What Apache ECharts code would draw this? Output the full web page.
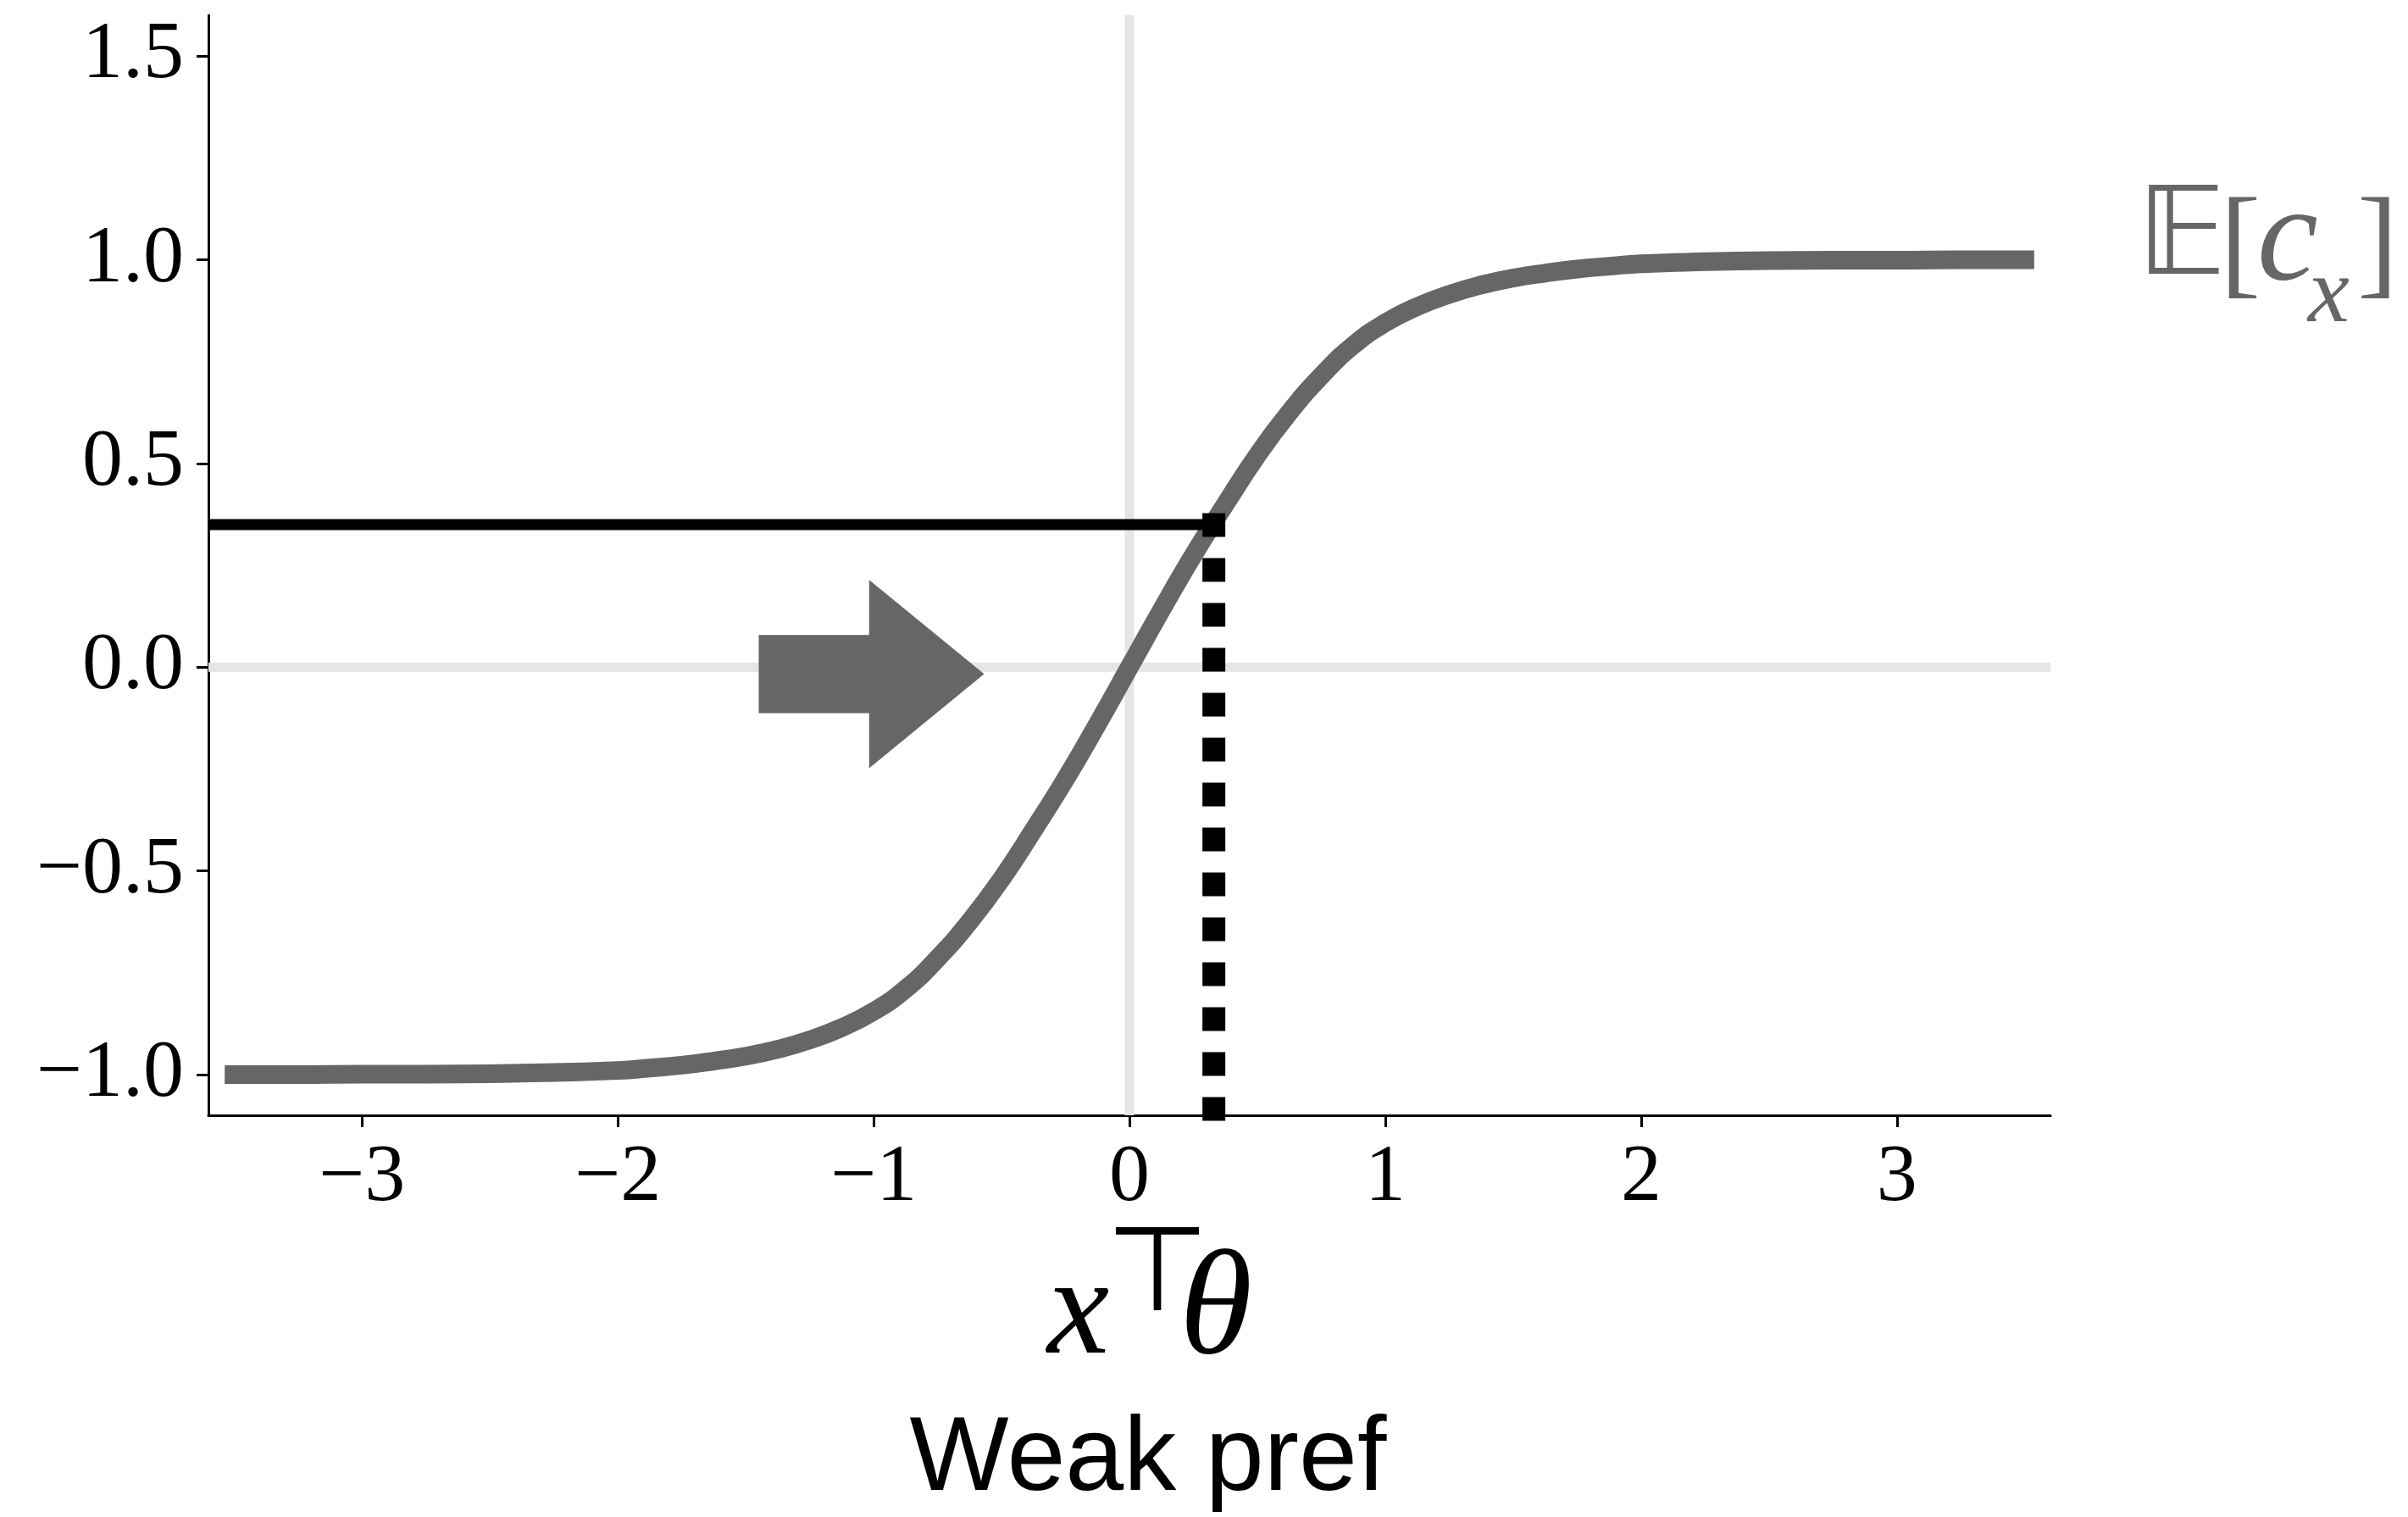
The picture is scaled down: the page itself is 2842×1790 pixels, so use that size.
<!DOCTYPE html>
<html>
<head>
<meta charset="utf-8">
<script src="https://cdn.jsdelivr.net/npm/echarts@6/dist/echarts.min.js"></script>
<style>
  html, body { margin: 0; padding: 0; background: #ffffff; }
  #chart { width: 2842px; height: 1790px; }
</style>
</head>
<body>
<div id="chart"></div>
<script>
// Expected choice E[c_x] as a function of x^T theta
const curveX = [-3.5, -3.25, -3.0, -2.75, -2.5, -2.25, -2.0, -1.875, -1.75, -1.625, -1.5, -1.375, -1.25, -1.125,
                -1.0, -0.875, -0.75, -0.625, -0.5, -0.375, -0.25, -0.125, 0,
                0.125, 0.25, 0.375, 0.5, 0.625, 0.75, 0.875, 1.0, 1.125, 1.25, 1.375, 1.5, 1.625, 1.75, 1.875,
                2.0, 2.25, 2.5, 2.75, 3.0, 3.25, 3.5];
const curveY = [-1.0, -1.0, -0.999, -0.999, -0.998, -0.995, -0.99, -0.984, -0.977, -0.967, -0.955, -0.938, -0.915, -0.885,
                -0.845, -0.79, -0.715, -0.625, -0.52, -0.4, -0.275, -0.14, 0,
                0.14, 0.275, 0.4, 0.52, 0.625, 0.715, 0.79, 0.845, 0.885, 0.915, 0.938, 0.955, 0.967, 0.977, 0.984,
                0.99, 0.995, 0.998, 0.999, 0.999, 1.0, 1.0];

// Marked operating point (projection lines)
const markX = 0.33;
const markY = 0.35;

// Axis extents and ticks
const xRange = [-3.6, 3.6];
const yRange = [-1.1, 1.6];
const xTicks = [-3, -2, -1, 0, 1, 2, 3];
const xTickLabels = ['\u22123', '\u22122', '\u22121', '0', '1', '2', '3'];
const yTicks = [-1.0, -0.5, 0.0, 0.5, 1.0, 1.5];
const yTickLabels = ['\u22121.0', '\u22120.5', '0.0', '0.5', '1.0', '1.5'];

// Block arrow outline (data coordinates)
const arrowX = [-1.449, -1.0175, -1.0175, -0.568, -1.0175, -1.0175, -1.449];
const arrowY = [0.079, 0.079, 0.214, -0.017, -0.248, -0.113, -0.113];

const GRAY = '#666666';
const LIGHT = '#e5e5e5';
const SERIF = '"Liberation Serif", "DejaVu Serif", serif';
const SANS = '"Liberation Sans", Arial, sans-serif';

const curveData = curveX.map((x, i) => [x, curveY[i]]);
const tickLabel = (ticks, labels) => (v) => {
  const i = ticks.findIndex(t => Math.abs(t - v) < 1e-9);
  return i >= 0 ? labels[i] : '';
};

const chart = echarts.init(document.getElementById('chart'), null, { renderer: 'canvas' });

const txt = (text, x, y, size, family, opts = {}) => ({
  type: 'text',
  x: x, y: y,
  silent: true,
  style: Object.assign({
    text: text,
    fontSize: size,
    fontFamily: family,
    fill: '#000000',
    align: 'left',
    verticalAlign: 'middle'
  }, opts)
});

chart.setOption({
  animation: false,
  backgroundColor: '#ffffff',
  grid: { left: 246, top: 18, width: 2174, height: 1298, containLabel: false },
  xAxis: {
    type: 'value',
    min: xRange[0], max: xRange[1],
    axisLine: { onZero: false, lineStyle: { color: '#000', width: 3 } },
    axisTick: { show: true, customValues: xTicks, length: 14, lineStyle: { color: '#000', width: 3 } },
    axisLabel: {
      customValues: xTicks,
      formatter: tickLabel(xTicks, xTickLabels),
      margin: 27,
      fontSize: 96, fontFamily: SERIF, color: '#000'
    },
    splitLine: { show: false }
  },
  yAxis: {
    type: 'value',
    min: yRange[0], max: yRange[1],
    axisLine: { show: true, onZero: false, lineStyle: { color: '#000', width: 3 } },
    axisTick: { show: true, customValues: yTicks, length: 14, lineStyle: { color: '#000', width: 3 } },
    axisLabel: {
      customValues: yTicks,
      formatter: tickLabel(yTicks, yTickLabels),
      margin: 29,
      fontSize: 96, fontFamily: SERIF, color: '#000'
    },
    splitLine: { show: false }
  },
  series: [
    {
      name: 'x = 0',
      type: 'line',
      data: [[0, yRange[0]], [0, yRange[1]]],
      symbol: 'none',
      lineStyle: { color: LIGHT, width: 11 },
      z: 1
    },
    {
      name: 'y = 0',
      type: 'line',
      data: [[xRange[0], 0], [xRange[1], 0]],
      symbol: 'none',
      lineStyle: { color: LIGHT, width: 11 },
      z: 1
    },
    {
      name: 'arrow',
      type: 'custom',
      data: [0],
      z: 2,
      renderItem: function (params, api) {
        const pts = arrowX.map((x, i) => api.coord([x, arrowY[i]]));
        return { type: 'polygon', shape: { points: pts }, style: { fill: GRAY } };
      }
    },
    {
      name: 'E[c_x]',
      type: 'line',
      data: curveData,
      symbol: 'none',
      smooth: 0.5,
      lineStyle: { color: GRAY, width: 22, cap: 'square' },
      clip: false,
      z: 3
    },
    {
      name: 'level',
      type: 'line',
      data: [[xRange[0], markY], [markX, markY]],
      symbol: 'none',
      lineStyle: { color: '#000', width: 13 },
      z: 4
    },
    {
      name: 'drop',
      type: 'line',
      data: [[markX, markY], [markX, yRange[0]]],
      symbol: 'none',
      clip: false,
      lineStyle: { color: '#000', width: 27, type: [1, 52], cap: 'square' },
      z: 5
    }
  ],
  graphic: [
    // x^T theta
    txt('x', 1236, 1553, 165, SERIF, { fontStyle: 'italic' }),
    txt('\u22A4', 1366, 1510, 140, '"DejaVu Sans", sans-serif', { align: 'center' }),
    txt('\u03B8', 1392, 1550, 175, SERIF, { fontStyle: 'italic' }),
    // panel caption
    txt('Weak pref', 1355, 1724, 124, SANS, { align: 'center' }),
    // E[c_x]
    txt('\uD835\uDD3C', 2522, 285, 145, '"DejaVu Sans", "DejaVu Serif", sans-serif', { fill: GRAY }),
    txt('[', 2620, 295, 145, SERIF, { fill: GRAY }),
    txt('c', 2664, 286, 162, SERIF, { fill: GRAY, fontStyle: 'italic' }),
    txt('x', 2724, 350, 110, SERIF, { fill: GRAY, fontStyle: 'italic' }),
    txt(']', 2782, 295, 145, SERIF, { fill: GRAY })
  ]
});
</script>
</body>
</html>
